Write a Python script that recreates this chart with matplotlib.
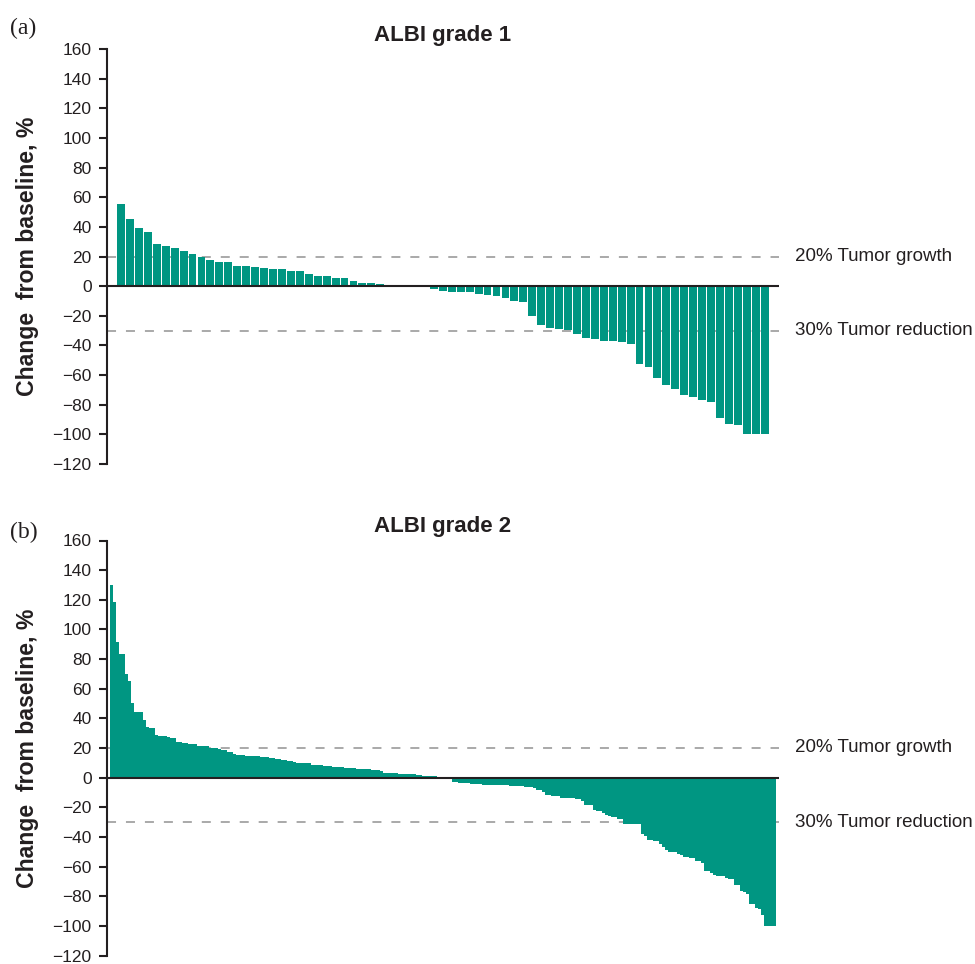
import matplotlib
matplotlib.use("Agg")
import matplotlib.pyplot as plt
import matplotlib.transforms as mtransforms

# ALBI grade 1 - change from baseline (%), sorted
grade1_values = [
    55.1, 45.0, 38.9, 36.3, 28.2, 26.9, 25.5, 23.5, 21.5, 19.5,
    17.5, 16.1, 16.1, 13.4, 13.4, 12.8, 12.1, 11.4, 11.4, 10.1,
    10.1, 8.1, 6.7, 6.7, 5.4, 5.4, 3.4, 2.0, 2.0, 1.3,
    0.7, 0.7, 0.7, 0.0, 0.0,
    -1.8, -3.1, -3.8, -3.8, -3.8, -5.1, -5.8, -6.5, -7.8, -9.8,
    -10.5, -19.9, -26.0, -28.0, -28.6, -29.3, -32.0, -34.7, -35.4, -36.7,
    -36.7, -38.0, -38.7, -52.8, -54.8, -62.2, -66.9, -69.6, -73.6, -75.0,
    -77.0, -78.3, -89.1, -93.1, -93.8, -100.0, -100.0, -100.0,
]

# ALBI grade 2 - change from baseline (%), sorted (value, count) runs
grade2_runs = [
    (130.3, 1), (118.2, 1), (91.2, 1), (83.1, 2), (69.7, 1), (64.9, 1),
    (50.1, 1), (44.3, 3), (38.7, 1), (33.9, 1), (33.3, 2), (28.5, 1),
    (27.9, 3), (27.2, 1), (26.5, 2), (23.8, 2), (23.1, 2), (22.5, 3),
    (21.1, 4), (19.8, 3), (19.1, 1), (18.4, 2), (17.1, 2), (15.7, 1),
    (15.1, 3), (14.4, 5), (13.7, 3), (13.0, 2),
    (12.6, 2), (11.9, 2), (11.2, 2), (10.6, 1), (9.9, 5), (8.5, 4),
    (7.9, 3), (7.2, 4), (6.5, 4), (5.8, 5), (5.2, 3), (4.5, 1),
    (3.1, 5), (2.5, 6), (1.8, 2), (1.1, 5), (0.0, 4), (-0.9, 1),
    (-2.7, 2), (-3.4, 4), (-4.0, 4), (-4.7, 9),
    (-5.4, 5), (-6.1, 3), (-6.7, 1), (-8.1, 2), (-9.4, 1), (-11.5, 2),
    (-12.1, 3), (-13.5, 5), (-14.2, 2), (-15.5, 1), (-18.2, 3), (-21.6, 1),
    (-22.2, 2), (-23.6, 1), (-24.9, 1), (-25.6, 1), (-26.3, 2), (-27.6, 2),
    (-31.0, 4), (-31.5, 2),
    (-38.2, 1), (-39.6, 1), (-42.2, 2), (-42.9, 2), (-44.9, 1), (-47.0, 1),
    (-49.0, 1), (-50.3, 3), (-51.7, 1), (-52.4, 1), (-53.7, 2), (-54.4, 2),
    (-56.4, 2), (-57.8, 1), (-63.1, 2), (-64.5, 1), (-65.8, 1), (-66.5, 3),
    (-67.9, 1), (-68.5, 2), (-72.6, 2), (-76.6, 1), (-77.3, 1), (-78.7, 1),
    (-85.4, 2), (-88.1, 1), (-88.8, 1), (-92.8, 1), (-100.0, 4),
]
grade2_values = [v for v, n in grade2_runs for _ in range(n)]

titles = ["ALBI grade 1", "ALBI grade 2"]
panel_labels = ["(a)", "(b)"]
yticks = list(range(-120, 161, 20))
ref_lines = [(20, "20% Tumor growth"), (-30, "30% Tumor reduction")]

BAR = "#009682"
DARK = "#231f20"
DASH = "#a3a3a3"

plt.rcParams["font.family"] = ["Liberation Sans", "DejaVu Sans"]

fig = plt.figure(figsize=(9.75, 9.64), dpi=100)
W, H = 975, 964

def make_axes(top_px, bottom_px):
    left, right = 107, 779
    return fig.add_axes([left / W, 1 - bottom_px / H, (right - left) / W, (bottom_px - top_px) / H])

ax_a = make_axes(49, 464)
ax_b = make_axes(540.5, 955.5)

panels = [
    (ax_a, grade1_values, 0.88, (-1.57, 73.6)),
    (ax_b, grade2_values, 1.0, (-1.5, 222.5)),
]

for i, (ax, vals, width, xlim) in enumerate(panels):
    x = range(len(vals))
    if width < 1:
        ax.bar(x, vals, width=width, color=BAR, linewidth=0, zorder=2)
    else:
        # contiguous bars, no seams
        ax.bar(x, vals, width=1.06, color=BAR, linewidth=0, antialiased=False, zorder=2)
    ax.set_xlim(*xlim)
    ax.set_ylim(-120, 160)
    ax.set_yticks(yticks)
    ax.set_xticks([])
    for side in ("top", "right", "bottom"):
        ax.spines[side].set_visible(False)
    ax.spines["left"].set_color(DARK)
    ax.spines["left"].set_linewidth(1.5)
    ax.tick_params(axis="y", direction="out", length=6, width=1.5, color=DARK,
                   labelsize=12.5, pad=5, labelcolor=DARK)
    ax.axhline(0, color=DARK, lw=1.5, zorder=3)
    trans = mtransforms.blended_transform_factory(ax.transAxes, ax.transData)
    for yv, txt in ref_lines:
        ax.axhline(yv, color=DASH, lw=1.3, ls=(0, (5, 5.5)), zorder=1)
        ax.text(1.024, yv, txt, transform=trans, ha="left", va="center",
                fontsize=13.5, color=DARK)
    ax.set_title(titles[i], fontsize=16, fontweight="bold", pad=6, color=DARK)
    ax.set_ylabel("Change  from baseline, %", fontsize=16.6, fontweight="bold", color=DARK)
    ax.yaxis.set_label_coords(-0.101, 0.5)

fig.text(10 / W, 1 - 28 / H, panel_labels[0], family="Liberation Serif", fontsize=17,
         va="center", ha="left", color=DARK)
fig.text(10 / W, 1 - 532 / H, panel_labels[1], family="Liberation Serif", fontsize=17,
         va="center", ha="left", color=DARK)

fig.savefig("out.png", dpi=100)
